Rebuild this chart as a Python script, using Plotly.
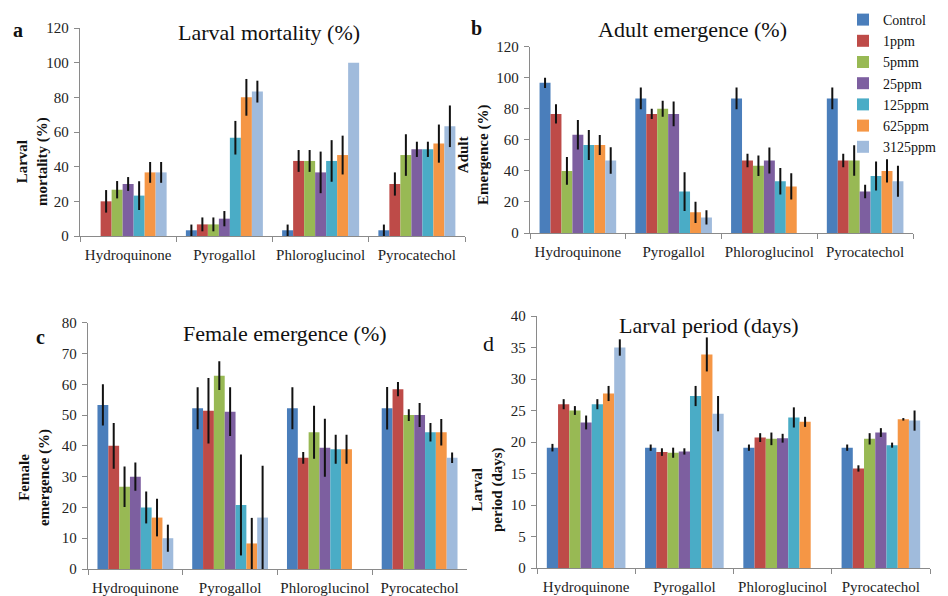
import plotly.graph_objects as go

categories = ["Hydroquinone", "Pyrogallol", "Phloroglucinol", "Pyrocatechol"]
series = ["Control", "1ppm", "5pmm", "25ppm", "125ppm", "625ppm", "3125ppm"]
colors = ["#4A7EBB", "#BE4B48", "#98B954", "#7D5FA0", "#4AACC6", "#F59645", "#A0BBDC"]

# Panel a: Larval mortality (%)  rows = series, columns = categories
mort_mean = [
    [None, 3.3, 3.3, 3.3],
    [20.0, 6.7, 43.3, 30.0],
    [26.7, 6.7, 43.3, 46.7],
    [30.0, 10.0, 36.7, 50.0],
    [23.3, 56.7, 43.3, 50.0],
    [36.7, 80.0, 46.7, 53.3],
    [36.7, 83.3, 100.0, 63.3],
]
mort_err = [
    [0, 3.3, 3.3, 3.3],
    [6.5, 4.0, 6.3, 6.7],
    [5.0, 4.0, 6.3, 12.0],
    [4.0, 4.4, 12.0, 4.4],
    [8.3, 9.7, 12.0, 4.4],
    [6.0, 10.6, 11.2, 11.0],
    [6.0, 6.3, 0, 12.0],
]

# Panel b: Adult emergence (%)
adult_mean = [
    [96.7, 86.7, 86.7, 86.7],
    [76.7, 76.7, 46.7, 46.7],
    [40.0, 80.0, 43.3, 46.7],
    [63.3, 76.7, 46.7, 26.7],
    [56.7, 26.7, 33.3, 36.7],
    [56.7, 13.3, 30.0, 40.0],
    [46.7, 10.0, None, 33.3],
]
adult_err = [
    [3.3, 7.0, 7.0, 7.0],
    [6.2, 3.3, 4.3, 4.3],
    [9.0, 5.2, 6.6, 9.8],
    [9.5, 8.0, 8.3, 4.3],
    [9.7, 12.5, 8.5, 9.3],
    [6.5, 6.8, 8.5, 7.5],
    [8.5, 4.6, 0, 10.0],
]

# Panel c: Female emergence (%)
female_mean = [
    [53.3, 52.2, 52.2, 52.2],
    [40.0, 51.4, 36.1, 58.4],
    [26.7, 62.8, 44.4, 50.0],
    [30.0, 51.1, 39.4, 50.0],
    [20.0, 20.8, 38.9, 44.4],
    [16.7, 8.3, 38.9, 44.4],
    [10.0, 16.7, None, 36.1],
]
female_err = [
    [6.7, 6.8, 6.8, 6.9],
    [7.4, 10.6, 1.9, 2.3],
    [6.6, 4.7, 8.6, 1.9],
    [4.6, 7.9, 9.4, 3.9],
    [5.2, 16.4, 4.7, 3.0],
    [6.1, 8.3, 4.7, 4.3],
    [4.4, 16.8, 0, 1.7],
]

# Panel d: Larval period (days)
period_mean = [
    [19.1, 19.1, 19.1, 19.1],
    [26.0, 18.4, 20.7, 15.8],
    [25.0, 18.3, 20.5, 20.5],
    [23.1, 18.5, 20.6, 21.5],
    [26.0, 27.3, 23.9, 19.5],
    [27.7, 33.9, 23.2, 23.6],
    [35.0, 24.5, None, 23.4],
]
period_err = [
    [0.6, 0.5, 0.5, 0.5],
    [0.8, 0.6, 0.7, 0.5],
    [0.7, 0.8, 1.0, 0.9],
    [1.1, 0.5, 0.7, 0.7],
    [0.8, 1.6, 1.6, 0.4],
    [1.2, 2.7, 0.8, 0.2],
    [1.3, 2.8, 0, 1.6],
]

W, H = 948, 596
FONT = "Times New Roman"


def px(x):
    return x / W


def py(y):
    return 1 - y / H


panels = [
    ("x", "y", mort_mean, mort_err, True),
    ("x2", "y2", adult_mean, adult_err, False),
    ("x3", "y3", female_mean, female_err, False),
    ("x4", "y4", period_mean, period_err, False),
]

fig = go.Figure()
for xa, ya, means, errs, show in panels:
    for i, name in enumerate(series):
        fig.add_trace(go.Bar(
            x=categories, y=means[i], name=name,
            marker=dict(color=colors[i], line=dict(width=0)),
            error_y=dict(type="data", array=errs[i], visible=True,
                         color="#111111", thickness=2, width=0),
            xaxis=xa, yaxis=ya, legendgroup=name, showlegend=show,
            hoverinfo="skip",
        ))

axis_line = "#8A8A8A"
tickfont = dict(family=FONT, size=15, color="#222222")


def xaxis(domain, anchor):
    return dict(domain=domain, anchor=anchor, type="category",
                showline=True, linecolor=axis_line, linewidth=1.3,
                ticks="outside", tickson="boundaries", ticklen=5,
                tickcolor=axis_line, tickfont=tickfont, tickangle=0,
                ticklabelstandoff=5,
                showgrid=False, zeroline=False, fixedrange=True)


def yaxis(domain, anchor, rng, dtick):
    return dict(domain=domain, anchor=anchor, range=rng, dtick=dtick,
                showline=True, linecolor=axis_line, linewidth=1.3,
                ticks="outside", ticklen=5, tickcolor=axis_line,
                tickfont=tickfont, ticklabelstandoff=2,
                showgrid=False, zeroline=False, fixedrange=True)


fig.update_layout(
    width=W, height=H,
    margin=dict(l=0, r=0, t=0, b=0, autoexpand=False),
    paper_bgcolor="white", plot_bgcolor="white",
    barmode="group", bargap=0.2, bargroupgap=0,
    font=dict(family=FONT, color="#111111"),
    hovermode=False,
    xaxis=xaxis([px(80), px(465)], "y"),
    yaxis=yaxis([py(236), py(28)], "x", [0, 120], 20),
    xaxis2=xaxis([px(530), px(913)], "y2"),
    yaxis2=yaxis([py(233), py(46.7)], "x2", [0, 120], 20),
    xaxis3=xaxis([px(88), px(467)], "y3"),
    yaxis3=yaxis([py(569), py(322.7)], "x3", [0, 80], 10),
    xaxis4=xaxis([px(537), px(930)], "y4"),
    yaxis4=yaxis([py(568), py(316)], "x4", [0, 40], 5),
    legend=dict(x=px(843), y=py(4), xanchor="left", yanchor="top",
                font=dict(family=FONT, size=14, color="#111111"),
                bgcolor="rgba(0,0,0,0)", traceorder="normal"),
    showlegend=True,
)

annos = [
    # titles
    ("Larval mortality (%)", 269, 33, 22, False, 0),
    ("Adult emergence (%)", 692, 30, 22, False, 0),
    ("Female emergence (%)", 285, 333, 22, False, 0),
    ("Larval period (days)", 709, 325, 22, False, 0),
    # panel letters
    ("a", 18, 30, 20, True, 0),
    ("b", 476, 28, 20, True, 0),
    ("c", 40, 337, 20, True, 0),
    ("d", 488, 343, 22, False, 0),
    # y titles
    ("Larval<br>mortality (%)", 32, 161, 15, True, -90),
    ("Adult<br>Emergence (%)", 474, 155, 15, True, -90),
    ("Female<br>emergence (%)", 34, 478, 15, True, -90),
    ("Larval<br>period (days)", 487, 490, 15, True, -90),
]
for text, x, y, size, bold, ang in annos:
    fig.add_annotation(
        text=f"<b>{text}</b>" if bold else text,
        x=px(x), y=py(y), xref="paper", yref="paper",
        xanchor="center", yanchor="middle", showarrow=False,
        textangle=ang, font=dict(family=FONT, size=size, color="#111111"),
    )

fig.write_html(
    "out.html",
    config={"displayModeBar": False, "staticPlot": True},
    post_script="document.body.style.margin='0';document.body.style.padding='0';",
)
